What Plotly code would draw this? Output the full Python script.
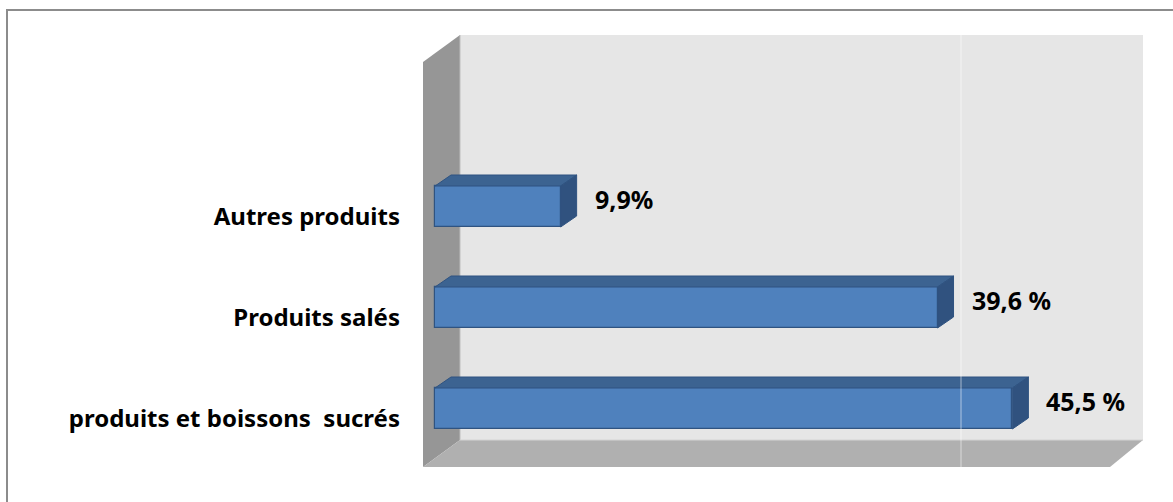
import plotly.graph_objects as go

# Data
categories = ["produits et boissons  sucrés", "Produits salés", "Autres produits"]
values = [45.5, 39.6, 9.9]
value_labels = ["45,5 %", "39,6 %", "9,9%"]
positions = [0, 1, 2]

# Canvas / plot-area geometry (pixels)
W, H = 1173, 502
ML, MR, MT, MB = 423, 30, 35, 35
PW, PH = W - ML - MR, H - MT - MB

PX_PER_UNIT = 12.69          # horizontal scale of the value axis
ZERO_PX = 435                # pixel where the bar fronts start
ROW_PX = 101                 # vertical distance between category rows
ROW0_PX = 408.5              # centre of the bottom row
BAR_W = 41 / ROW_PX          # bar thickness in row units
DEPTH_X_PX, DEPTH_Y_PX = 16, 11

x0 = -(ZERO_PX - ML) / PX_PER_UNIT
x1 = x0 + PW / PX_PER_UNIT
y_lo = (ROW0_PX - (H - MB)) / ROW_PX
y_hi = (ROW0_PX - MT) / ROW_PX
dx = DEPTH_X_PX / PX_PER_UNIT
dy = DEPTH_Y_PX / ROW_PX


def px(xp):
    return (xp - ML) / PW


def py(yp):
    return (H - MB - yp) / PH


def path(points):
    return "M " + " L ".join(f"{px(a):.5f},{py(b):.5f}" for a, b in points) + " Z"


FRONT = "#4f81bd"
TOP = "#3c6391"
SIDE = "#30527f"
EDGE = "#2f5381"

fig = go.Figure()

# Front faces of the bars
fig.add_trace(go.Bar(
    x=values, y=positions, orientation="h", width=BAR_W,
    marker=dict(color=FRONT, line=dict(color=EDGE, width=1.2)),
    hoverinfo="skip", showlegend=False,
))

# Top and side faces giving the bars their depth
for v, k in zip(values, positions):
    yt, yb = k + BAR_W / 2, k - BAR_W / 2
    fig.add_trace(go.Scatter(
        x=[0, v, v + dx, dx, 0], y=[yt, yt, yt + dy, yt + dy, yt],
        fill="toself", fillcolor=TOP, mode="lines",
        line=dict(color=EDGE, width=1), hoverinfo="skip", showlegend=False,
    ))
    fig.add_trace(go.Scatter(
        x=[v, v + dx, v + dx, v, v], y=[yb, yb + dy, yt + dy, yt, yb],
        fill="toself", fillcolor=SIDE, mode="lines",
        line=dict(color=EDGE, width=1), hoverinfo="skip", showlegend=False,
    ))

# Value labels just past the right end of each bar
for v, k, lab in zip(values, positions, value_labels):
    fig.add_annotation(
        x=v + dx, y=k + dy / 2, text=lab, showarrow=False,
        xanchor="left", yanchor="middle", xshift=16, yshift=2,
        font=dict(family="Noto Sans", size=25, color="black", weight="bold"),
    )

P = dict(xref="paper", yref="paper")
shapes = [
    # outer chart border
    dict(type="rect", x0=px(7), x1=px(1185), y0=py(10), y1=py(515),
         line=dict(color="#8c8c8c", width=2), fillcolor="rgba(0,0,0,0)", layer="below", **P),
    # back wall
    dict(type="rect", x0=px(460), x1=px(1143), y0=py(440), y1=py(35),
         line=dict(width=0), fillcolor="#e6e6e6", layer="below", **P),
    # side wall
    dict(type="path", path=path([(423, 62), (460, 35), (460, 440), (423, 467)]),
         line=dict(width=0), fillcolor="#969696", layer="below", **P),
    # floor
    dict(type="path", path=path([(423, 467), (460, 440), (1143, 440), (1110, 467)]),
         line=dict(width=0), fillcolor="#b0b0b0", layer="below", **P),
    # wall edges
    dict(type="line", x0=px(460), x1=px(460), y0=py(35), y1=py(440),
         line=dict(color="#bdbdbd", width=1), layer="below", **P),
    dict(type="line", x0=px(460), x1=px(1143), y0=py(440), y1=py(440),
         line=dict(color="#d4d4d4", width=1), layer="below", **P),
    # major gridline
    dict(type="line", x0=px(961), x1=px(961), y0=py(35), y1=py(467),
         line=dict(color="rgba(255,255,255,0.55)", width=1), layer="above", **P),
]

fig.update_layout(
    width=W, height=H,
    margin=dict(l=ML, r=MR, t=MT, b=MB),
    paper_bgcolor="white", plot_bgcolor="rgba(0,0,0,0)",
    shapes=shapes, bargap=0,
    xaxis=dict(range=[x0, x1], showgrid=False, zeroline=False,
               showticklabels=False, showline=False, fixedrange=True),
    yaxis=dict(range=[y_lo, y_hi], tickvals=positions, ticktext=categories,
               showgrid=False, zeroline=False, showline=False, ticks="",
               ticklabelstandoff=22, ticklabelshift=10,
               tickfont=dict(family="Noto Sans", size=24, color="black", weight="bold"),
               fixedrange=True),
)

fig.write_html("out.html")
